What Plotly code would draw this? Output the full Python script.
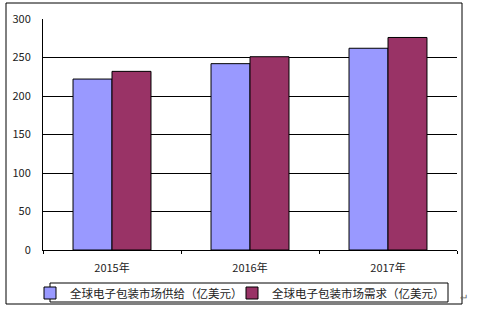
import plotly.graph_objects as go

years = ["2015年", "2016年", "2017年"]
supply = [222, 242, 262]
demand = [232, 251, 276]
names = ["全球电子包装市场供给（亿美元）", "全球电子包装市场需求（亿美元）"]
colors = ["#9999FF", "#993366"]
legend_ids = ["legend", "legend2"]

font = "Noto Sans CJK SC, SimSun, sans-serif"

fig = go.Figure()
for vals, nm, c, lg in zip([supply, demand], names, colors, legend_ids):
    fig.add_trace(go.Bar(x=years, y=vals, name=nm, legend=lg,
                         marker=dict(color=c, line=dict(color="black", width=1))))

leg_common = dict(orientation="h", xanchor="left", xref="container",
                  y=(313 - 293) / 313, yanchor="middle", yref="container",
                  borderwidth=0, bgcolor="rgba(0,0,0,0)",
                  font=dict(size=11.5, color="#222"), itemwidth=30)

fig.update_layout(
    width=480, height=313,
    margin=dict(l=43, r=23, t=19, b=63, autoexpand=False),
    paper_bgcolor="white", plot_bgcolor="white",
    barmode="group", bargap=0.435, bargroupgap=0,
    font=dict(family=font, size=11, color="#222"),
    showlegend=True,
    legend=dict(x=(50 - 20) / 480, **leg_common),
    legend2=dict(x=(252 - 20) / 480, **leg_common),
    xaxis=dict(showline=True, linecolor="black", linewidth=1, ticks="outside", tickson="boundaries",
               ticklen=3, tickcolor="black", showgrid=False, tickfont=dict(size=11),
               ticklabelstandoff=8),
    yaxis=dict(range=[0, 300], dtick=50, showline=True, linecolor="black", linewidth=1,
               showgrid=True, gridcolor="black", gridwidth=1, ticks="",
               zeroline=False, tickfont=dict(size=11), ticklabelstandoff=9),
    shapes=[dict(type="rect", xref="paper", yref="paper",
                 x0=(6 - 43) / 414, x1=(462 - 43) / 414, y0=(250 - 304) / 231, y1=(250 - 3) / 231,
                 line=dict(color="black", width=1)),
            dict(type="rect", xref="paper", yref="paper",
                 x0=(50 - 43) / 414, x1=(448 - 43) / 414, y0=(250 - 302) / 231, y1=(250 - 283) / 231,
                 line=dict(color="black", width=1))],
    annotations=[dict(text="↵", xref="paper", yref="paper", x=(470 - 43) / 414, y=(250 - 306) / 231,
                      showarrow=False, font=dict(size=10, color="#666"))],
)

fig.write_html("out.html")
